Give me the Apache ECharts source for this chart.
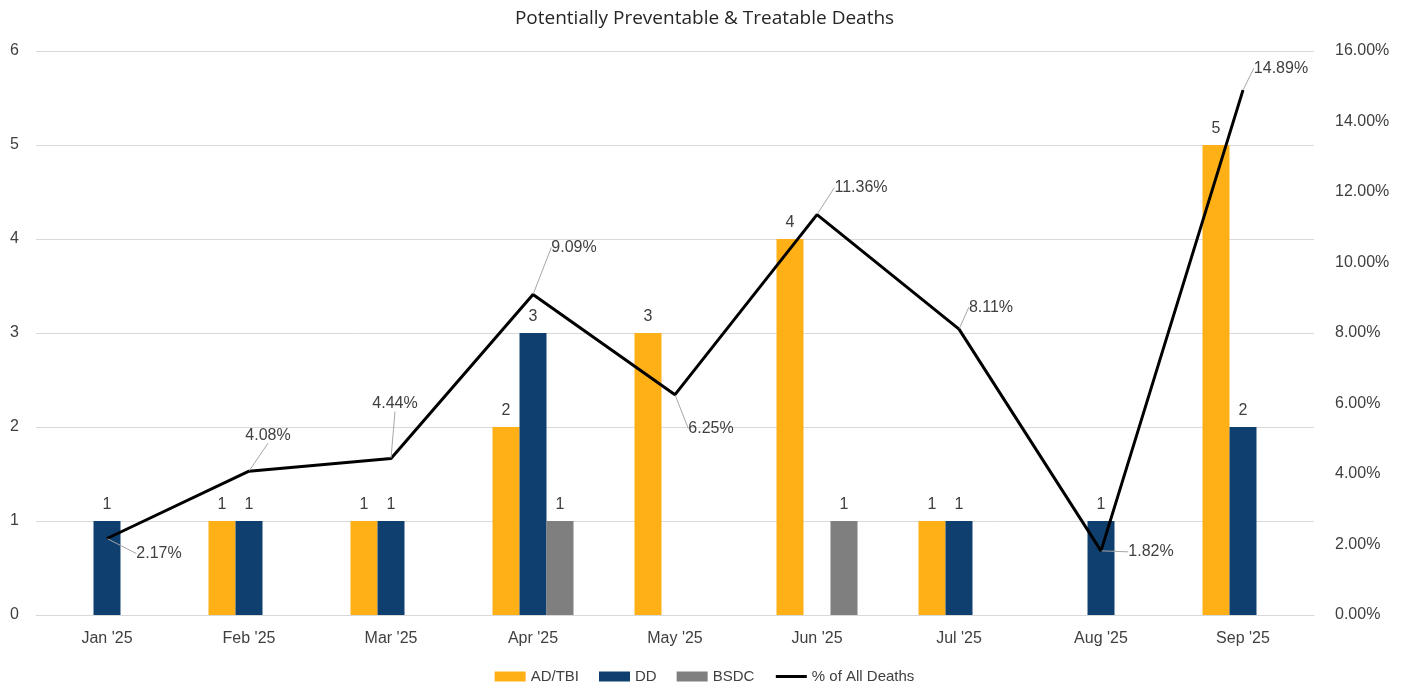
<!DOCTYPE html>
<html>
<head>
<meta charset="utf-8">
<script src="https://cdn.jsdelivr.net/npm/echarts@6/dist/echarts.min.js"></script>
<style>html,body{margin:0;padding:0;background:#fff}#c{width:1409px;height:688px}</style>
</head>
<body>
<div id="c"></div>
<script>
var categories = ["Jan '25", "Feb '25", "Mar '25", "Apr '25", "May '25", "Jun '25", "Jul '25", "Aug '25", "Sep '25"];
var adTbi = [null, 1, 1, 2, 3, 4, 1, null, 5];
var dd = [1, 1, 1, 3, null, null, 1, 1, 2];
var bsdc = [null, null, null, 1, null, 1, null, null, null];
var pctAllDeaths = [2.17, 4.08, 4.44, 9.09, 6.25, 11.36, 8.11, 1.82, 14.89];
var leftTicks = [0, 1, 2, 3, 4, 5, 6];
var rightTicks = [0, 2, 4, 6, 8, 10, 12, 14, 16];

// label offsets for the line's callouts (relative to each point)
var pctLabelOffsets = [[52, 15], [19, -36], [4, -55], [41, -47], [36, 34], [44, -27], [32, -22], [50, 1], [38, -22]];

var FONT = 'Liberation Sans';
var TXT = '#404040';

var chart = echarts.init(document.getElementById('c'), null, {renderer: 'canvas'});

function barSeries(name, data, color) {
  return {
    name: name, type: 'bar', data: data, yAxisIndex: 0,
    barWidth: 27, barGap: '0%',
    itemStyle: {color: color},
    label: {show: true, position: 'top', color: TXT, fontFamily: FONT, fontSize: 16, distance: 8},
    emphasis: {disabled: true}
  };
}

chart.setOption({
  animation: false,
  textStyle: {fontFamily: FONT},
  title: {
    text: 'Potentially Preventable & Treatable Deaths',
    left: 'center', top: 4,
    textStyle: {fontFamily: 'Open Sans', fontSize: 19, fontWeight: 'normal', color: '#262626'}
  },
  legend: {
    top: 664, left: 'center',
    itemWidth: 31, itemHeight: 10, itemGap: 20,
    textStyle: {fontFamily: FONT, fontSize: 15, color: TXT},
    data: [
      {name: 'AD/TBI', icon: 'rect'},
      {name: 'DD', icon: 'rect'},
      {name: 'BSDC', icon: 'rect'},
      {name: '% of All Deaths', itemStyle: {opacity: 0}, lineStyle: {width: 3, color: '#000'}}
    ]
  },
  grid: {left: 36, right: 95, top: 51, bottom: 73},
  xAxis: {
    type: 'category', data: categories,
    axisLine: {lineStyle: {color: '#d9d9d9', width: 1}},
    axisTick: {show: false},
    axisLabel: {color: TXT, fontFamily: FONT, fontSize: 16, margin: 16}
  },
  yAxis: [
    {
      type: 'value', min: leftTicks[0], max: leftTicks[leftTicks.length - 1], interval: 1,
      axisLine: {show: false}, axisTick: {show: false},
      axisLabel: {color: TXT, fontFamily: FONT, fontSize: 16, margin: 17},
      splitLine: {lineStyle: {color: '#d9d9d9', width: 1}}
    },
    {
      type: 'value', min: rightTicks[0], max: rightTicks[rightTicks.length - 1], interval: 2,
      position: 'right',
      axisLine: {show: false}, axisTick: {show: false},
      axisLabel: {color: TXT, fontFamily: FONT, fontSize: 16, margin: 21,
        formatter: function (v) { return v.toFixed(2) + '%'; }},
      splitLine: {show: false}
    }
  ],
  series: [
    barSeries('AD/TBI', adTbi, '#FFB016'),
    barSeries('DD', dd, '#0E3F6E'),
    barSeries('BSDC', bsdc, '#7F7F7F'),
    {
      name: '% of All Deaths', type: 'line', yAxisIndex: 1, data: pctAllDeaths,
      symbol: 'circle', symbolSize: 1, showSymbol: true,
      lineStyle: {color: '#000', width: 3},
      itemStyle: {color: '#000'},
      z: 5,
      label: {
        show: true, position: 'inside', color: TXT, fontFamily: FONT, fontSize: 16,
        formatter: function (p) { return p.value.toFixed(2) + '%'; }
      },
      labelLayout: function (p) {
        var o = pctLabelOffsets[p.dataIndex];
        return {dx: o[0], dy: o[1]};
      },
      labelLine: {show: true, lineStyle: {color: '#a6a6a6', width: 1}},
      emphasis: {disabled: true}
    }
  ]
});
</script>
</body>
</html>
